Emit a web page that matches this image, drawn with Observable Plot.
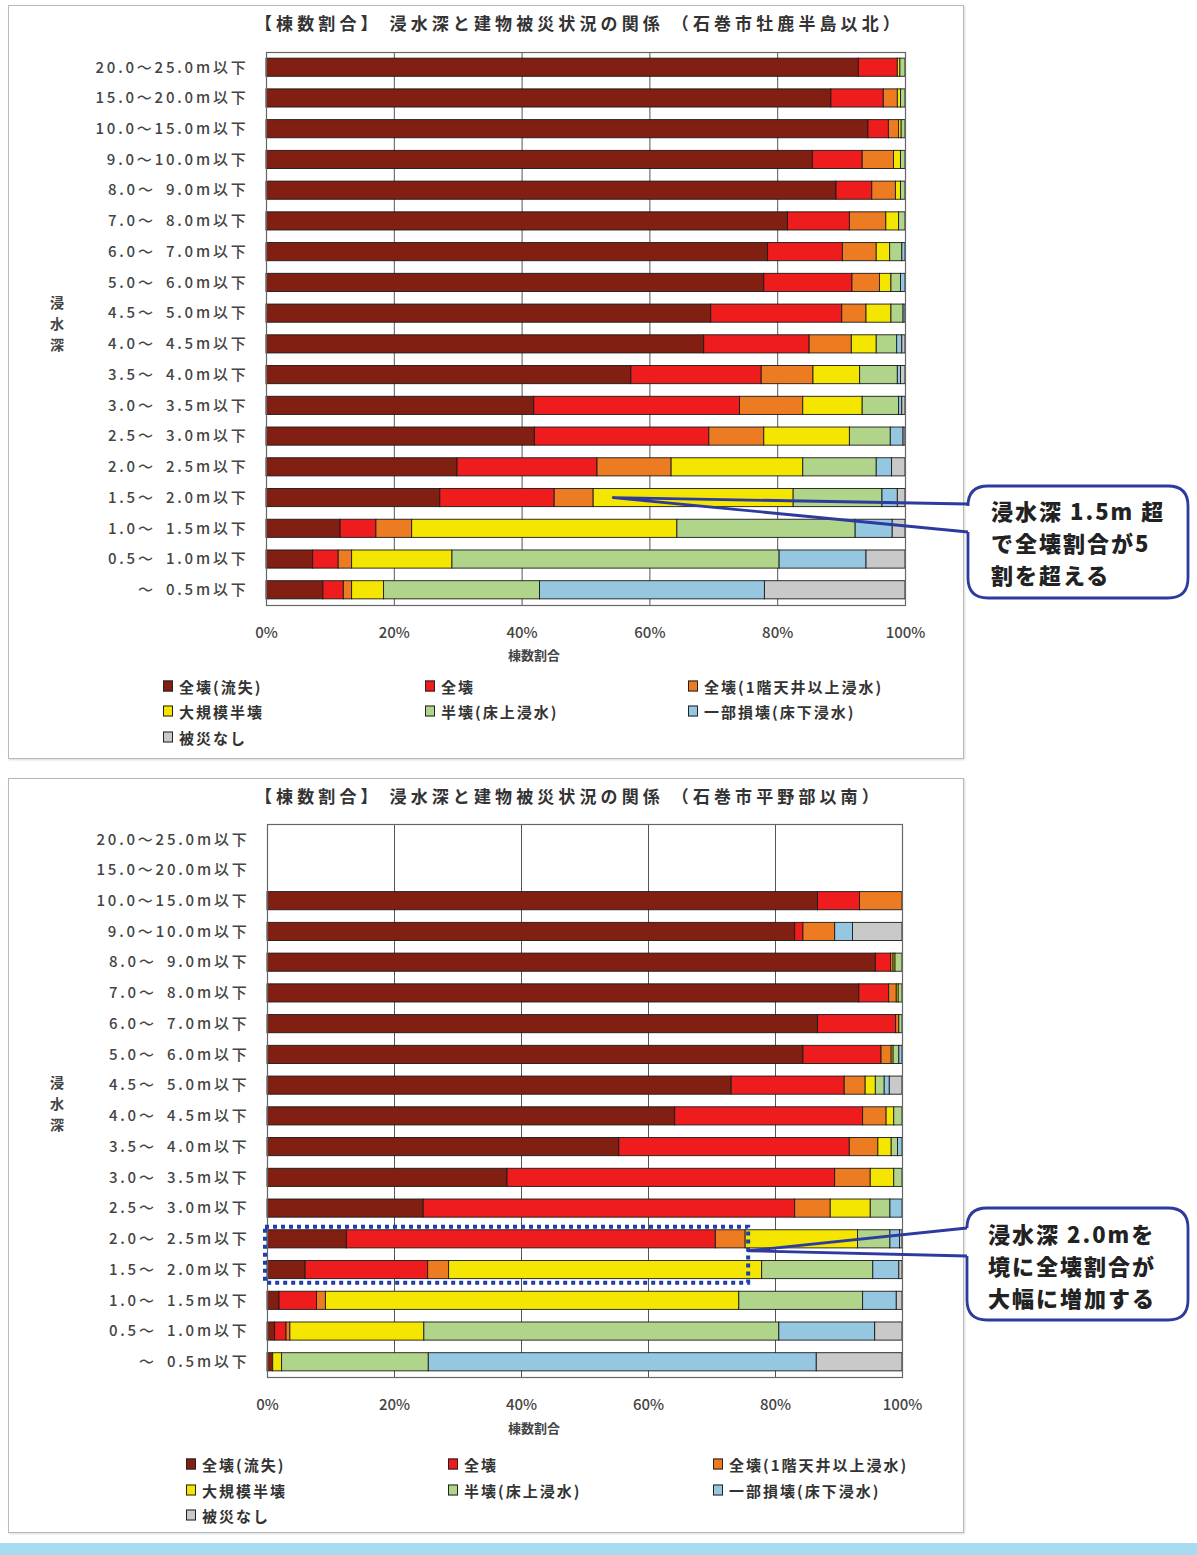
<!DOCTYPE html>
<html>
<head>
<meta charset="utf-8">
<script src="https://cdn.jsdelivr.net/npm/d3@7"></script>
<script src="https://cdn.jsdelivr.net/npm/@observablehq/plot@0.6"></script>
<style>
  body { margin: 0; background: #fff; }
  #page { position: relative; width: 1197px; height: 1555px; overflow: hidden; background: #fff;
          font-family: "Noto Sans CJK JP", sans-serif; color: #333; }
  .panel { position: absolute; left: 8px; width: 954px; border: 1.5px solid #b8b8b8; background: #fff;
           box-shadow: 1px 1px 2px rgba(0,0,0,.15); }
  .title { position: absolute; font-size: 17px; font-weight: 700; letter-spacing: 4.1px; white-space: pre; color: #333; }
  .ytitle { position: absolute; font-size: 14px; font-weight: 700; line-height: 21px; width: 16px; text-align: center; color: #444; }
  .xlabel { position: absolute; font-size: 13px; font-weight: 700; color: #444; transform: translateX(-50%); white-space: nowrap; }
  .legend-item { position: absolute; font-size: 15px; font-weight: 700; letter-spacing: 2px; color: #333;
                 display: flex; align-items: center; white-space: nowrap; transform: translateY(-50%); }
  .legend-item i { display: inline-block; width: 8px; height: 9px; border: 1.5px solid #222; margin-right: 6px; }
  .plot { position: absolute; left: 8px; }
  .plot g[aria-label="y-axis tick label"] text { letter-spacing: 2.8px; }
  #overlay { position: absolute; left: 0; top: 0; pointer-events: none; }
  .callout-text { position: absolute; font-size: 22px; font-weight: 900; letter-spacing: 2px; line-height: 32px;
                  color: #222; white-space: pre; }
  .band { position: absolute; left: 0; top: 1543px; width: 1197px; height: 12px; background: #a6dcf0; }
</style>
</head>
<body>
<div id="page"></div>
<script>
// Flood-depth classes (top row = deepest)
const depthLabels = [
  "20.0～25.0m以下", "15.0～20.0m以下", "10.0～15.0m以下", "9.0～10.0m以下",
  "8.0～\u20029.0m以下", "7.0～\u20028.0m以下", "6.0～\u20027.0m以下", "5.0～\u20026.0m以下",
  "4.5～\u20025.0m以下", "4.0～\u20024.5m以下", "3.5～\u20024.0m以下", "3.0～\u20023.5m以下",
  "2.5～\u20023.0m以下", "2.0～\u20022.5m以下", "1.5～\u20022.0m以下", "1.0～\u20021.5m以下",
  "0.5～\u20021.0m以下", "～\u20020.5m以下"
];

// Damage categories and their colours
const damageTypes = ["全壊(流失)", "全壊", "全壊(1階天井以上浸水)", "大規模半壊", "半壊(床上浸水)", "一部損壊(床下浸水)", "被災なし"];
const damageColors = ["#801f12", "#ee1c1c", "#ec7b22", "#f4e600", "#b0d48a", "#95c7e1", "#c9c9c9"];

const xTicks = [0, 20, 40, 60, 80, 100];

// 石巻市牡鹿半島以北 — share of buildings (%) per depth class
const northWashedAway = [92.7, 88.4, 94.2, 85.5, 89.2, 81.6, 78.5, 77.9, 69.6, 68.5, 57.1, 41.9, 42.0, 29.9, 27.2, 11.6, 7.3, 8.9];
const northTotalLoss  = [6.1, 8.2, 3.2, 7.8, 5.6, 9.7, 11.7, 13.8, 20.5, 16.5, 20.4, 32.2, 27.3, 21.9, 17.9, 5.6, 4.0, 3.2];
const northCeiling    = [0, 2.2, 1.6, 4.9, 3.7, 5.7, 5.3, 4.3, 3.8, 6.6, 8.1, 9.9, 8.6, 11.6, 6.1, 5.6, 2.1, 1.3];
const northMajorHalf  = [0.4, 0.5, 0.4, 1.1, 0.8, 2.0, 2.1, 1.8, 3.9, 3.9, 7.3, 9.3, 13.4, 20.6, 31.3, 41.5, 15.7, 5.0];
const northHalf       = [0.8, 0.7, 0.6, 0.7, 0.7, 1.0, 1.9, 1.5, 1.9, 3.2, 5.9, 5.7, 6.4, 11.5, 13.9, 27.9, 51.2, 24.4];
const northPartial    = [0, 0, 0, 0, 0, 0, 0.5, 0.7, 0.3, 0.8, 0.5, 0.5, 2.0, 2.4, 2.4, 5.8, 13.6, 35.2];
const northNone       = [0, 0, 0, 0, 0, 0, 0, 0, 0, 0.5, 0.7, 0.5, 0.3, 2.1, 1.2, 2.0, 6.1, 22.0];

// 石巻市平野部以南 — share of buildings (%) per depth class
const southWashedAway = [0, 0, 86.7, 83.1, 95.8, 93.2, 86.7, 84.4, 73.1, 64.2, 55.4, 37.8, 24.6, 12.5, 6.0, 1.9, 1.2, 0.9];
const southTotalLoss  = [0, 0, 6.6, 1.3, 2.4, 4.7, 12.3, 12.3, 17.8, 29.6, 36.3, 51.6, 58.5, 58.1, 19.3, 5.9, 1.8, 0];
const southCeiling    = [0, 0, 6.7, 5.0, 0.4, 1.2, 0.5, 1.6, 3.3, 3.7, 4.5, 5.6, 5.6, 4.7, 3.3, 1.4, 0.6, 0];
const southMajorHalf  = [0, 0, 0, 0, 0.3, 0.3, 0, 0.3, 1.6, 1.2, 2.1, 3.7, 6.3, 17.7, 49.3, 65.1, 21.1, 1.4];
const southHalf       = [0, 0, 0, 0, 1.1, 0.6, 0.5, 0.9, 1.4, 1.3, 1.0, 1.3, 3.1, 5.1, 17.5, 19.5, 55.9, 23.1];
const southPartial    = [0, 0, 0, 2.8, 0, 0, 0, 0.5, 0.8, 0, 0.7, 0, 1.9, 1.5, 4.1, 5.3, 15.1, 61.1];
const southNone       = [0, 0, 0, 7.8, 0, 0, 0, 0, 2.0, 0, 0, 0, 0, 0.4, 0.5, 0.9, 4.3, 13.5];

const northSeries = [northWashedAway, northTotalLoss, northCeiling, northMajorHalf, northHalf, northPartial, northNone];
const southSeries = [southWashedAway, southTotalLoss, southCeiling, southMajorHalf, southHalf, southPartial, southNone];

const page = document.getElementById("page");
const FONT = "'Noto Sans CJK JP', sans-serif";

function el(tag, cls, css, text) {
  const e = document.createElement(tag);
  if (cls) e.className = cls;
  Object.assign(e.style, css || {});
  if (text != null) e.textContent = text;
  page.appendChild(e);
  return e;
}

// one long table per region: depth × category → percentage
function stackRows(series) {
  const rows = [];
  depthLabels.forEach((depth, i) => {
    damageTypes.forEach((type, j) => {
      const pct = series[j][i];
      if (pct > 0) rows.push({depth, type, pct});
    });
  });
  return rows;
}

// cumulative share of the first k categories in one depth class
function cumulative(series, depth, k) {
  const i = depthLabels.indexOf(depth);
  return d3.sum(series.slice(0, k), s => s[i]);
}

function drawPanel({top, height, title, series, margins, legendX, legendY, yTitleTop, xLabelTop}) {
  el("div", "panel", {top: top + "px", height: height + "px"});
  el("div", "title", {left: "255px", top: (top + 5) + "px"}, title);

  const chart = Plot.plot({
    width: 956,
    height: 639,
    marginLeft: margins.left,
    marginRight: margins.right,
    marginTop: margins.top,
    marginBottom: 639 - margins.top - 553,
    style: {fontFamily: FONT, fontSize: "15px", fontWeight: 500, color: "#444", background: "transparent"},
    x: {domain: [0, 100]},
    y: {domain: depthLabels, paddingInner: 0.41, paddingOuter: 0.2, round: false},
    color: {domain: damageTypes, range: damageColors},
    marks: [
      Plot.gridX(xTicks.slice(1, -1), {stroke: "#555", strokeOpacity: 1, strokeWidth: 1}),
      Plot.barX(stackRows(series), {x: "pct", y: "depth", fill: "type", stroke: "#1a1a1a", strokeWidth: 0.9}),
      Plot.frame({stroke: "#666", strokeWidth: 1.2}),
      Plot.axisX(xTicks, {tickSize: 0, tickPadding: 22, tickFormat: d => d + "%", label: null, fontSize: 15}),
      Plot.axisY({tickSize: 0, tickPadding: 18, label: null, fontSize: 15})
    ]
  });
  const wrap = el("div", "plot", {top: top + "px"});
  wrap.appendChild(chart);

  // vertical axis title
  el("div", "ytitle", {left: "49px", top: yTitleTop + "px"}).innerHTML = "浸<br>水<br>深";
  el("div", "xlabel", {left: "534px", top: xLabelTop + "px"}, "棟数割合");

  // legend: three columns, row-major
  damageTypes.forEach((t, i) => {
    const item = el("div", "legend-item", {
      left: legendX[i % 3] + "px",
      top: legendY[Math.floor(i / 3)] + "px"
    });
    const sw = document.createElement("i");
    sw.style.background = damageColors[i];
    item.appendChild(sw);
    item.appendChild(document.createTextNode(t));
  });

  return {
    x: v => chart.scale("x").apply(v) + 8,
    y: v => chart.scale("y").apply(v) + top,
    bw: chart.scale("y").bandwidth
  };
}

const north = drawPanel({
  top: 5, height: 752,
  title: "【棟数割合】 浸水深と建物被災状況の関係 （石巻市牡鹿半島以北）",
  series: northSeries,
  margins: {left: 258, right: 59, top: 47},
  legendX: [163, 425, 688], legendY: [686, 711, 737],
  yTitleTop: 292, xLabelTop: 645
});

const south = drawPanel({
  top: 778, height: 753,
  title: "【棟数割合】 浸水深と建物被災状況の関係 （石巻市平野部以南）",
  series: southSeries,
  margins: {left: 259, right: 62, top: 46},
  legendX: [186, 448, 713], legendY: [1464, 1490, 1515],
  yTitleTop: 1072, xLabelTop: 1418
});

el("div", "band");

// annotation layer: callout boxes and the highlighted rows
const svg = d3.select(page).append("svg")
  .attr("id", "overlay").attr("width", 1197).attr("height", 1555);
const BLUE = "#2d3a9e";

function callout({x0, x1, y0, y1, yA, yB, anchor, lines, textLeft, textTop}) {
  const r = 20;
  const box = d3.path();
  box.moveTo(x0, yB);
  box.lineTo(x0, y1 - r);
  box.quadraticCurveTo(x0, y1, x0 + r, y1);
  box.lineTo(x1 - r, y1);
  box.quadraticCurveTo(x1, y1, x1, y1 - r);
  box.lineTo(x1, y0 + r);
  box.quadraticCurveTo(x1, y0, x1 - r, y0);
  box.lineTo(x0 + r, y0);
  box.quadraticCurveTo(x0, y0, x0, y0 + r);
  box.lineTo(x0, yA);
  svg.append("path").attr("d", box.toString())
    .attr("fill", "#fff").attr("stroke", BLUE).attr("stroke-width", 2.8);
  svg.append("path")
    .attr("d", `M${x0},${yA}L${anchor[0]},${anchor[1]}L${x0},${yB}`)
    .attr("fill", "none").attr("stroke", BLUE).attr("stroke-width", 2.8).attr("stroke-linejoin", "round");
  el("div", "callout-text", {left: textLeft + "px", top: textTop + "px"}, lines.join("\n"));
}

// top panel: points at the start of 大規模半壊 in the 1.5–2.0m class
const nRow = depthLabels[14];
const nStart = cumulative(northSeries, nRow, 3);
callout({
  x0: 968, x1: 1188, y0: 486, y1: 598, yA: 504, yB: 532,
  anchor: [north.x(nStart) + 20, north.y(nRow) + north.bw / 2],
  lines: ["浸水深 1.5m 超", "で全壊割合が5", "割を超える"],
  textLeft: 991, textTop: 494
});

// bottom panel: dotted frame around the 1.5–2.5m classes up to the end of 全壊 categories
const sRowA = depthLabels[13], sRowB = depthLabels[14];
const rx0 = south.x(0) - 2;
const rx1 = south.x(cumulative(southSeries, sRowA, 3)) + 3;
const ry0 = south.y(sRowA) - 3;
const ry1 = south.y(sRowB) + south.bw + 4;
svg.append("rect")
  .attr("x", rx0).attr("y", ry0).attr("width", rx1 - rx0).attr("height", ry1 - ry0)
  .attr("fill", "none").attr("stroke", "#1f3fb0").attr("stroke-width", 4).attr("stroke-dasharray", "4 4");

callout({
  x0: 967, x1: 1188, y0: 1208, y1: 1320, yA: 1228, yB: 1256,
  anchor: [rx1, ry0 + 24],
  lines: ["浸水深 2.0mを", "境に全壊割合が", "大幅に増加する"],
  textLeft: 988, textTop: 1217
});
</script>
</body>
</html>
